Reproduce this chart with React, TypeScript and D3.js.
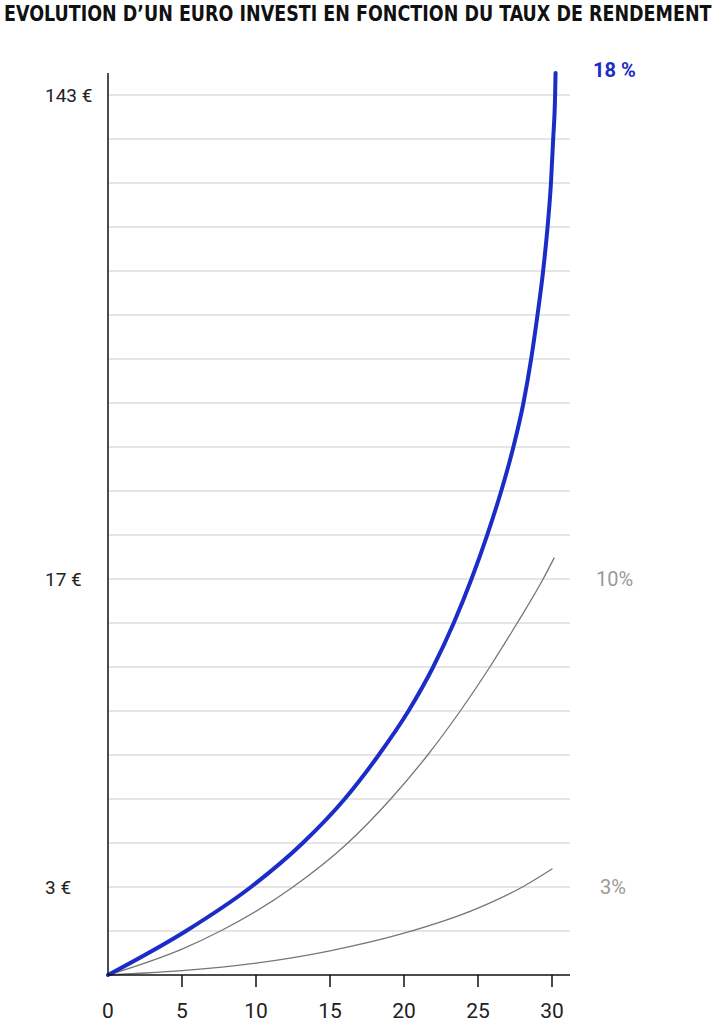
import React, { useLayoutEffect, useRef, useState } from "react";
import * as d3 from "d3";

// Growth of one euro over 30 years for three rates of return
const TITLE = "EVOLUTION D\u2019UN EURO INVESTI EN FONCTION DU TAUX DE RENDEMENT";

const xTickValues = [0, 5, 10, 15, 20, 25, 30];
const yTickValues = [3, 17, 143];

const years18 = [0, 5.27, 9.66, 13.16, 15.99, 18.29, 20.3, 21.97, 23.36, 24.56, 25.62, 26.57, 27.39, 28.07, 28.59, 29.02, 29.4, 29.7, 29.93, 30.08, 30.21, 30.24];
const values18 = [1, 2, 3, 5, 7, 9, 11, 13, 15, 17, 28.45, 39.91, 51.36, 62.82, 74.27, 85.73, 97.18, 108.64, 120.09, 131.55, 143, 148.73];

const years10 = [0, 5, 7.6, 12.5, 16.2, 19.1, 21.6, 23.8, 25.8, 27.65, 29.4, 30.14];
const values10 = [1, 1.59, 2, 3, 5, 7, 9, 11, 13, 15, 17, 22.47];

const years3 = [0, 2.5, 5, 10, 15, 20, 25, 28, 30];
const values3 = [1, 1.045, 1.1, 1.27, 1.55, 1.95, 2.52, 3, 3.82];

const W = 718;
const H = 1024;
const X0 = 108;
const X1 = 552;
const AXIS_END = 570;
const Y0 = 975;
const STEP = 44;
const GRID_COUNT = 20;
const TITLE_WIDTH = 708;

const BLUE = "#1b2dc6";
const GREY_LINE = "#767676";
const GREY_LABEL = "#9a9a9a";
const NUM_FONT = "Roboto, 'Open Sans', 'DejaVu Sans', sans-serif";

export default function App() {
  const titleRef = useRef<SVGTextElement>(null);
  const [titleScale, setTitleScale] = useState(1);

  // Squeeze the title horizontally so it spans the full width
  useLayoutEffect(() => {
    const el = titleRef.current;
    if (!el) return;
    const w = el.getComputedTextLength();
    if (w > 0) setTitleScale(TITLE_WIDTH / w);
  }, []);

  const x = d3.scaleLinear().domain([0, 30]).range([X0, X1]);
  // Piecewise scale: the value ticks sit on grid rows 0, 2, 9 and 20
  const y = d3
    .scaleLinear()
    .domain([1, 3, 17, 143])
    .range([Y0, Y0 - 2 * STEP, Y0 - 9 * STEP, Y0 - 20 * STEP]);

  const toPoints = (ys: number[], vs: number[]) => ys.map((yr, i) => [yr, vs[i]] as [number, number]);
  const line = d3
    .line<[number, number]>()
    .x((d) => x(d[0]))
    .y((d) => y(d[1]))
    .curve(d3.curveMonotoneX);

  const series = [
    { label: "3%", pts: toPoints(years3, values3), color: GREY_LINE, width: 1.3, labelColor: GREY_LABEL, labelY: y(3), labelX: 600, bold: false },
    { label: "10%", pts: toPoints(years10, values10), color: GREY_LINE, width: 1.3, labelColor: GREY_LABEL, labelY: y(17), labelX: 596, bold: false },
    { label: "18 %", pts: toPoints(years18, values18), color: BLUE, width: 4, labelColor: BLUE, labelY: y(values18[values18.length - 1]) - 3, labelX: 593, bold: true },
  ];

  const gridRows = d3.range(1, GRID_COUNT + 1).map((i) => Y0 - i * STEP);
  const axisTop = y(values18[values18.length - 1]);

  return (
    <svg
      width={W}
      height={H}
      viewBox={`0 0 ${W} ${H}`}
      style={{ position: "absolute", left: 0, top: 0, display: "block", background: "#fff" }}
    >
      <rect width={W} height={H} fill="#fff" />
      <text
        ref={titleRef}
        transform={`translate(4,21) scale(${titleScale},1)`}
        fontFamily="'Liberation Sans Narrow', 'DejaVu Sans Condensed', 'Roboto Condensed', Roboto, sans-serif"
        fontWeight={700}
        fontSize={21}
        fill="#111"
      >
        {TITLE}
      </text>

      {/* horizontal grid */}
      {gridRows.map((gy, i) => (
        <line key={i} x1={X0} x2={AXIS_END} y1={gy} y2={gy} stroke="#cccccc" strokeWidth={1} />
      ))}

      {/* curves */}
      {series.map((s) => (
        <path
          key={s.label}
          d={line(s.pts) || ""}
          fill="none"
          stroke={s.color}
          strokeWidth={s.width}
          strokeLinecap="round"
        />
      ))}

      {/* axes */}
      <line x1={X0} x2={X0} y1={axisTop} y2={Y0} stroke="#111" strokeWidth={1.5} />
      <line x1={X0} x2={AXIS_END} y1={Y0} y2={Y0} stroke="#111" strokeWidth={1.5} />
      {xTickValues.map((t) => (
        <g key={t}>
          {t > 0 && <line x1={x(t)} x2={x(t)} y1={Y0} y2={Y0 + 12} stroke="#111" strokeWidth={1.5} />}
          <text x={x(t)} y={1018} textAnchor="middle" fontFamily={NUM_FONT} fontWeight={400} fontSize={21} fill="#222">
            {t}
          </text>
        </g>
      ))}
      {yTickValues.map((v) => (
        <text key={v} x={45} y={y(v)} dy="0.36em" fontFamily={NUM_FONT} fontWeight={400} fontSize={19} fill="#222">
          {`${v} \u20ac`}
        </text>
      ))}

      {/* rate labels */}
      {series.map((s) => (
        <text
          key={`lbl-${s.label}`}
          x={s.labelX}
          y={s.labelY}
          dy="0.36em"
          fontFamily={NUM_FONT}
          fontWeight={s.bold ? 700 : 400}
          fontSize={20}
          fill={s.labelColor}
        >
          {s.label}
        </text>
      ))}
    </svg>
  );
}
